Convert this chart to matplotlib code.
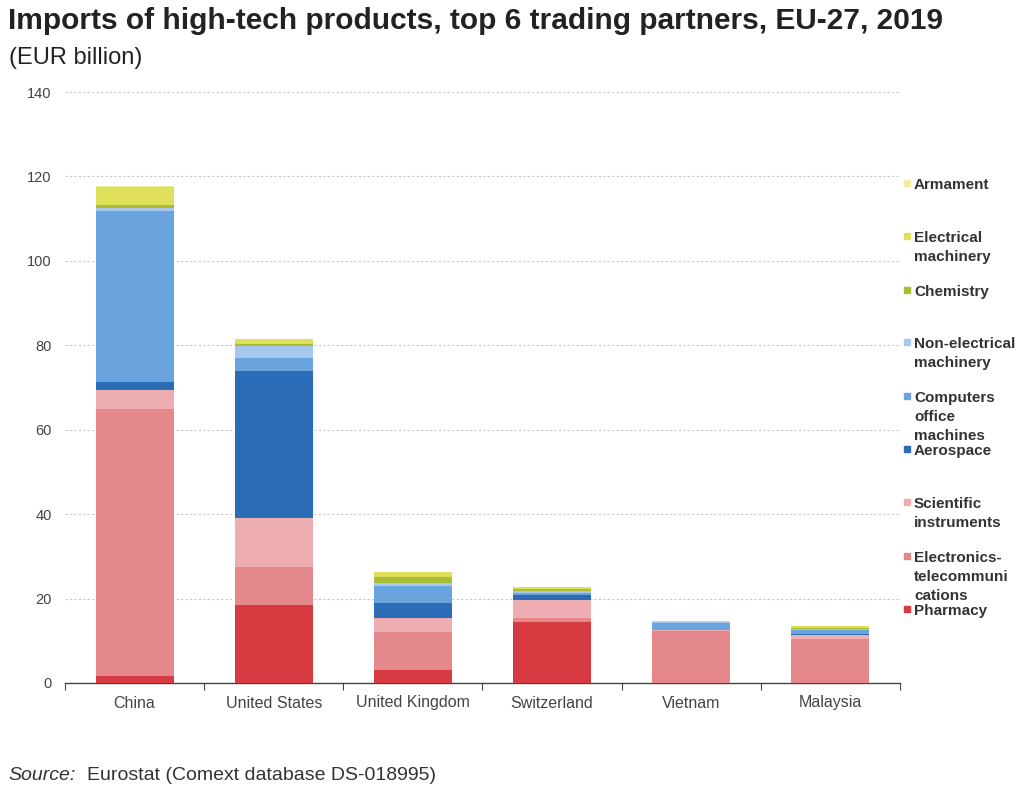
import matplotlib.pyplot as plt
import numpy as np
from matplotlib.patches import Rectangle

plt.rcParams['font.family'] = ['Liberation Sans', 'DejaVu Sans']

partners = ['China', 'United States', 'United Kingdom', 'Switzerland', 'Vietnam', 'Malaysia']

# product groups, bottom of the stack first
groups = ['Pharmacy', 'Electronics-\ntelecommuni\ncations', 'Scientific\ninstruments',
          'Aerospace', 'Computers\noffice\nmachines', 'Non-electrical\nmachinery',
          'Chemistry', 'Electrical\nmachinery', 'Armament']

pharmacy = [1.7, 18.5, 3.1, 14.5, 0.05, 0.1]
electronics = [63.2, 8.9, 8.9, 0.8, 12.3, 10.4]
scientific = [4.5, 11.6, 3.5, 4.4, 0.2, 0.9]
aerospace = [2.0, 34.9, 3.5, 1.1, 0.1, 0.1]
computers = [40.3, 3.0, 4.0, 0.6, 1.5, 1.1]
non_electrical = [0.8, 3.0, 0.8, 0.5, 0.3, 0.3]
chemistry = [0.8, 0.4, 1.2, 0.4, 0.1, 0.2]
electrical = [4.2, 1.1, 1.2, 0.4, 0.2, 0.5]
armament = [0.3, 0.2, 0.2, 0.1, 0.0, 0.0]

colors = ['#D73A40', '#E5888B', '#EEAEB1', '#2A6DB6', '#6AA4DE', '#A7C8EC',
          '#A9BE35', '#DEE05A', '#EEEE9C']

series = [pharmacy, electronics, scientific, aerospace, computers, non_electrical,
          chemistry, electrical, armament]

fig = plt.figure(figsize=(10.27, 7.87), dpi=100)
ax = fig.add_axes([65 / 1027, 1 - 683 / 787, 835 / 1027, 591 / 787])

x = np.arange(len(partners))
bottom = np.zeros(len(partners))
for vals, c in zip(series, colors):
    ax.bar(x, vals, 0.56, bottom=bottom, color=c, zorder=3)
    bottom += np.array(vals)

ax.set_ylim(0, 140)
ax.set_xlim(-0.5, 5.5)
ax.set_yticks(range(0, 141, 20))
ax.yaxis.grid(True, linestyle=(0, (2, 2)), color='#c8c8c8', linewidth=0.8, zorder=0)
ax.tick_params(axis='y', length=0, labelsize=10.5, colors='#444444', pad=9.5)

ax.set_xticks(np.arange(-0.5, 6, 1))
ax.set_xticklabels([])
ax.tick_params(axis='x', which='major', length=5, width=0.8, color='#444444')
ax.set_xticks(x, minor=True)
ax.set_xticklabels(partners, minor=True)
ax.tick_params(axis='x', which='minor', length=0, labelsize=11.5, colors='#444444', pad=9)

for s in ['top', 'right', 'left']:
    ax.spines[s].set_visible(False)
ax.spines['bottom'].set_color('#444444')
ax.spines['bottom'].set_linewidth(1.0)

# legend on the right, top item first, y of first text line in pixels
first_line = [183, 236, 290, 342, 396, 449, 502, 556, 609]
order = list(range(len(groups)))[::-1]
for k, i in enumerate(order):
    y0 = first_line[k]
    fig.patches.append(Rectangle((904 / 1027, 1 - (y0 + 3) / 787), 6 / 1027, 6 / 787,
                                 transform=fig.transFigure, color=colors[i], figure=fig))
    fig.text(914 / 1027, 1 - (y0 - 5) / 787, groups[i], fontsize=11, fontweight='bold',
             color='#333333', va='top', ha='left', linespacing=1.45)

fig.text(8 / 1027, 1 - 21 / 787, 'Imports of high-tech products, top 6 trading partners, EU-27, 2019',
         fontsize=21.5, fontweight='bold', color='#222222', va='center', ha='left')
fig.text(9 / 1027, 1 - 58 / 787, '(EUR billion)', fontsize=17, color='#222222',
         va='center', ha='left')
fig.text(8 / 1027, 1 - 775 / 787, 'Source:', fontsize=14, style='italic', color='#333333',
         va='center', ha='left')
fig.text(87 / 1027, 1 - 775 / 787, 'Eurostat (Comext database DS-018995)', fontsize=14,
         color='#333333', va='center', ha='left')

fig.savefig('out.png', dpi=100)
